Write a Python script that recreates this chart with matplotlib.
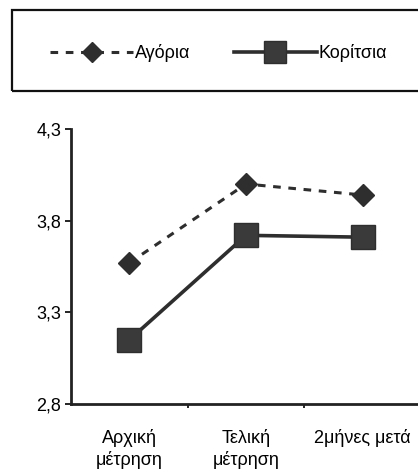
import matplotlib.pyplot as plt
from matplotlib.patches import Rectangle

plt.rcParams['font.family'] = ['Liberation Sans', 'DejaVu Sans']

categories = ['Αρχική\nμέτρηση', 'Τελική\nμέτρηση', '2μήνες μετά']
boys = [3.57, 4.00, 3.94]
girls = [3.15, 3.72, 3.71]
series_labels = ['Αγόρια', 'Κορίτσια']
yticks = [2.8, 3.3, 3.8, 4.3]
ytick_labels = ['2,8', '3,3', '3,8', '4,3']

W, H = 418, 473
fig = plt.figure(figsize=(W / 100, H / 100), dpi=100)
ax = fig.add_axes([71 / W, 69 / H, 350 / W, 275 / H])

x = range(len(categories))
col = '#2e2e2e'
l1, = ax.plot(x, boys, color=col, lw=2.2, dashes=(2.5, 2.5), marker='D',
              markersize=11, markerfacecolor=col, markeredgecolor=col)
l2, = ax.plot(x, girls, color=col, lw=2.6, marker='s',
              markersize=17, markerfacecolor='#3a3a3a', markeredgecolor=col)

ax.set_xlim(-0.5, 2.5)
ax.set_ylim(2.8, 4.3)
ax.set_yticks(yticks)
ax.set_yticklabels(ytick_labels, fontsize=13)
ax.set_xticks(list(x))
ax.set_xticklabels(categories, fontsize=13, linespacing=1.25)
ax.tick_params(axis='x', length=0, pad=18)
ax.set_xticks([0.5, 1.5], minor=True)
ax.tick_params(axis='x', which='minor', length=3, width=1.2, direction='out')
ax.tick_params(axis='y', length=4, width=1.2, direction='out', pad=3)

for s in ['top', 'right']:
    ax.spines[s].set_visible(False)
for s in ['left', 'bottom']:
    ax.spines[s].set_linewidth(2)
    ax.spines[s].set_color('#222222')

fig.patches.append(Rectangle((12 / W, 382 / H), 420 / W, 81 / H,
                             transform=fig.transFigure, fill=False,
                             lw=1.6, edgecolor='#111111'))
fig.legend([l1, l2], series_labels, loc='center left',
           bbox_to_anchor=(34 / W, 420 / H), ncol=2, frameon=False,
           fontsize=13, handlelength=4.6, handletextpad=0.1,
           columnspacing=2.4, markerscale=0.9)

fig.savefig('out.png', dpi=100)
